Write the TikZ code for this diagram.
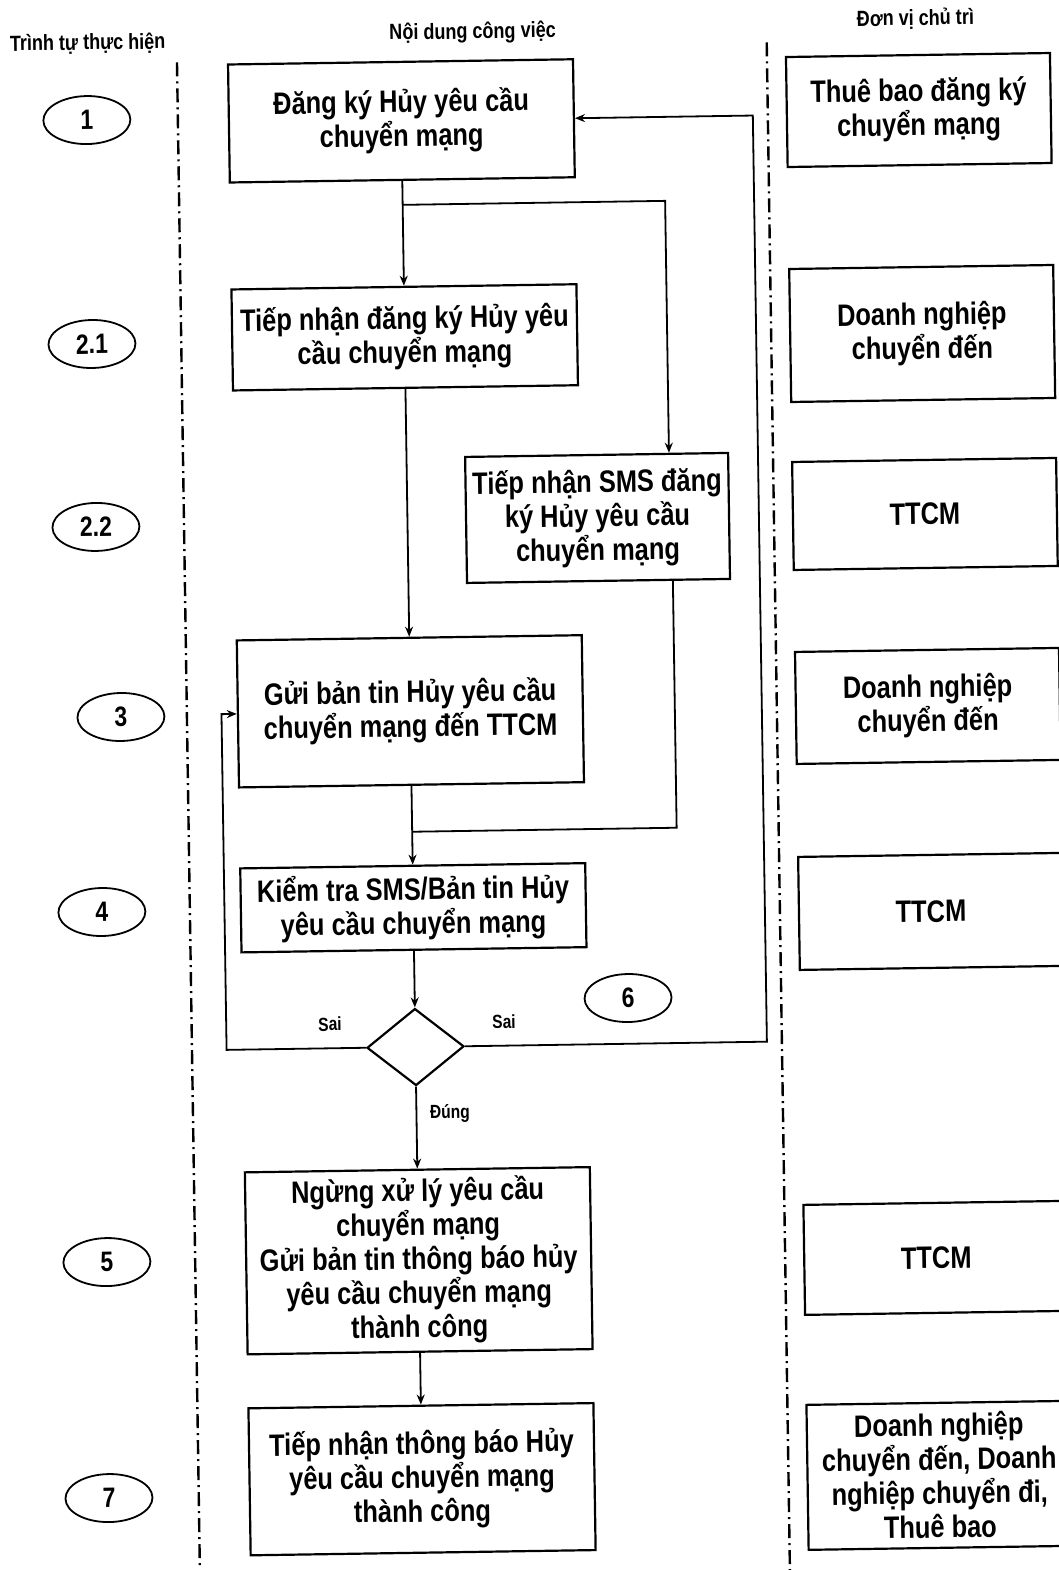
\documentclass[tikz,border=0pt]{standalone}
\usepackage{fontspec}
\setmainfont{Liberation Sans}[FakeStretch=0.82]
\usetikzlibrary{arrows.meta,shapes.geometric}
\begin{document}
\begin{tikzpicture}[x=1pt,y=-1pt,
  box/.style={draw,line width=2.2pt,align=center,inner sep=0pt,font=\bfseries\fontsize{31}{34}\selectfont},
  mbox/.style={box,minimum width=345pt},
  rbox/.style={box,minimum width=264pt},
  oval/.style={draw,ellipse,line width=1.8pt,minimum width=87pt,minimum height=48pt,inner sep=0pt,font=\bfseries\fontsize{28}{30}\selectfont},
  hdr/.style={font=\bfseries\fontsize{22}{24}\selectfont,inner sep=0pt},
  lbl/.style={font=\bfseries\fontsize{19}{22}\selectfont,inner sep=0pt},
  ln/.style={line width=1.8pt},
  arr/.style={ln,-{Stealth[length=10pt,width=8pt]}},
  dd/.style={line width=2.4pt,dash pattern=on 14pt off 5pt on 2pt off 5pt}]
\useasboundingbox (0,0) rectangle (1059,1570);
\clip (0,0) rectangle (1059,1570);
\begin{scope}[rotate around={0.87:(529,785)},transform shape]
% headers
\node[hdr] (h1) at (99,37) {Trình tự thực hiện};
\node[hdr] (h2) at (484,32) {Nội dung công việc};
\node[hdr] (h3) at (927,25) {Đơn vị chủ trì};
% lane separators
\coordinate (dl1) at (188,57);
\coordinate (dl2) at (188,1620);
\coordinate (dr1) at (778,46);
\coordinate (dr2) at (778,1620);
\draw[dd] (dl1) -- (dl2);
\draw[dd] (dr1) -- (dr2);
% main boxes
\node[mbox,minimum height=118pt] (b1) at (411.5,119) {Đăng ký Hủy yêu cầu\\chuyển mạng};
\node[mbox,minimum height=101pt] (b21) at (411.5,335.5) {Tiếp nhận đăng ký Hủy yêu\\cầu chuyển mạng};
\node[box,minimum width=263pt,minimum height=126pt] (b22) at (601.6,519) {Tiếp nhận SMS đăng\\ký Hủy yêu cầu\\chuyển mạng};
\node[mbox,minimum height=147pt] (b3) at (411.5,709.5) {Gửi bản tin Hủy yêu cầu\\chuyển mạng đến TTCM};
\node[mbox,minimum height=84pt] (b4) at (411.5,906) {Kiểm tra SMS/Bản tin Hủy\\yêu cầu chuyển mạng};
\node[draw,diamond,line width=2.2pt,minimum width=97pt,minimum height=77pt,aspect=1.26,inner sep=0pt] (d) at (411.5,1045.3) {};
\node[mbox,minimum height=182pt] (b5) at (411.5,1259) {Ngừng xử lý yêu cầu\\chuyển mạng\\Gửi bản tin thông báo hủy\\yêu cầu chuyển mạng\\thành công};
\node[mbox,minimum height=147pt] (b7) at (411.5,1477.5) {Tiếp nhận thông báo Hủy\\yêu cầu chuyển mạng\\thành công};
% right boxes
\node[rbox,minimum height=110pt] (r1) at (929,116) {Thuê bao đăng ký\\chuyển mạng};
\node[rbox,minimum height=133pt] (r21) at (929,339.5) {Doanh nghiệp\\chuyển đến};
\node[rbox,minimum height=108pt] (r22) at (929,520) {TTCM};
\node[rbox,minimum height=112pt] (r3) at (929,712) {Doanh nghiệp\\chuyển đến};
\node[rbox,minimum height=113pt] (r4) at (929,917.5) {TTCM};
\node[rbox,minimum height=110pt] (r5) at (929,1264) {TTCM};
\node[rbox,minimum height=145pt] (r7) at (929,1481.5) {Doanh nghiệp\\chuyển đến, Doanh\\nghiệp chuyển đi,\\Thuê bao};
% ovals
\node[oval] (o1) at (97,113.4) {1};
\node[oval] (o21) at (98.7,337.4) {2.1};
\node[oval] (o22) at (99.9,520.4) {2.2};
\node[oval] (o3) at (122,710.8) {3};
\node[oval] (o4) at (100,905.5) {4};
\node[oval] (o6) at (624.8,999.5) {6};
\node[oval] (o5) at (99.7,1255.6) {5};
\node[oval] (o7) at (98.2,1491.6) {7};
% connectors
\coordinate (j1) at (411.5,203);
\coordinate (k1) at (674,203);
\coordinate (k2) at (676,830);
\coordinate (j2) at (411.5,830);
\coordinate (ll) at (222.6,0);
\coordinate (rl) at (763,0);
\draw[arr] (b1) -- (b21);
\draw[arr] (j1) -- (k1) -- (k1 |- b22.north);
\draw[arr] (b21) -- (b3);
\draw[ln] (b22.south -| k2) -- (k2) -- (j2);
\draw[arr] (b3) -- (b4);
\draw[arr] (b4) -- (d);
\draw[arr] (d.west) -- (d.west -| ll) |- (b3.west);
\draw[arr] (d.east) -- (d.east -| rl) |- (b1.east);
\draw[arr] (d) -- (b5);
\draw[arr] (b5) -- (b7);
% labels
\node[lbl] (s1) at (326.4,1021) {Sai};
\node[lbl] (s2) at (500.4,1021.6) {Sai};
\node[lbl] (dg) at (445,1112) {Đúng};
\end{scope}
\end{tikzpicture}
\end{document}
